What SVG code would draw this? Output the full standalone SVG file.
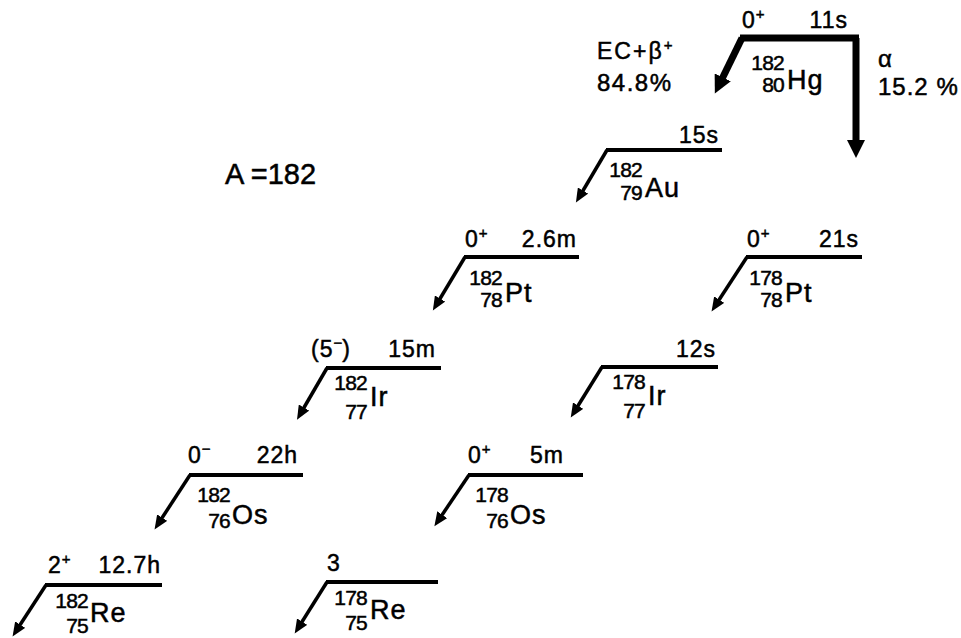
<svg xmlns="http://www.w3.org/2000/svg" width="961" height="638" viewBox="0 0 961 638">
<style>
text{font-family:"Liberation Sans","DejaVu Sans",sans-serif;fill:#000;stroke:#000;stroke-width:0.5}
.lb{font-size:23px;letter-spacing:1px}
.sp{font-size:15px;letter-spacing:0}
.num{font-size:21px;letter-spacing:-0.8px;text-anchor:end}
.el{font-size:27px;letter-spacing:1px}
.lvl{stroke:#000;stroke-width:4;fill:none}
.arr{stroke:#000;stroke-width:3.5;fill:none;marker-end:url(#ah)}
.big{stroke:#000;stroke-width:7;fill:none}
</style>
<defs>
<marker id="ah" markerUnits="userSpaceOnUse" markerWidth="16" markerHeight="12" refX="4" refY="6" orient="auto">
<path d="M0,0 L14,6 L0,12 z" fill="#000"/>
</marker>
<marker id="bh" markerUnits="userSpaceOnUse" markerWidth="20" markerHeight="18" refX="4" refY="9" orient="auto">
<path d="M0,0 L18,9 L0,18 z" fill="#000"/>
</marker>
</defs>
<rect width="961" height="638" fill="#fff"/>
<text x="225" y="184" style="font-size:29px">A =182</text>

<g id="Hg182">
<line x1="740" y1="38" x2="859" y2="38" stroke="#000" stroke-width="7"/>
<text class="lb" x="742" y="28">0<tspan class="sp" dy="-9">+</tspan></text>
<text class="lb" x="848" y="28" text-anchor="end">11s</text>
<text class="num" x="784" y="70">182</text>
<text class="num" x="784" y="92">80</text>
<text class="el" x="787" y="89">Hg</text>
</g>
<g id="Au182">
<line class="lvl" x1="606" y1="150" x2="722" y2="150"/>
<text class="lb" x="719" y="143" text-anchor="end">15s</text>
<text class="num" x="642" y="177">182</text>
<text class="num" x="642" y="200">79</text>
<text class="el" x="645" y="197">Au</text>
</g>
<g id="Pt182">
<line class="lvl" x1="464" y1="257" x2="579" y2="257"/>
<text class="lb" x="465" y="247">0<tspan class="sp" dy="-9">+</tspan></text>
<text class="lb" x="577" y="247" text-anchor="end">2.6m</text>
<text class="num" x="502" y="285">182</text>
<text class="num" x="502" y="307">78</text>
<text class="el" x="505" y="302">Pt</text>
</g>
<g id="Pt178">
<line class="lvl" x1="746" y1="257" x2="862" y2="257"/>
<text class="lb" x="747" y="247">0<tspan class="sp" dy="-9">+</tspan></text>
<text class="lb" x="859" y="247" text-anchor="end">21s</text>
<text class="num" x="782" y="285">178</text>
<text class="num" x="782" y="307">78</text>
<text class="el" x="785" y="302">Pt</text>
</g>
<g id="Ir182">
<line class="lvl" x1="326" y1="368" x2="441" y2="368"/>
<text class="lb" x="311" y="357">(5<tspan class="sp" dy="-9">−</tspan><tspan dy="9">)</tspan></text>
<text class="lb" x="436" y="357" text-anchor="end">15m</text>
<text class="num" x="367" y="390">182</text>
<text class="num" x="367" y="419">77</text>
<text class="el" x="370" y="406">Ir</text>
</g>
<g id="Ir178">
<line class="lvl" x1="601" y1="367" x2="718" y2="367"/>
<text class="lb" x="716" y="357" text-anchor="end">12s</text>
<text class="num" x="645" y="389">178</text>
<text class="num" x="645" y="418">77</text>
<text class="el" x="648" y="405">Ir</text>
</g>
<g id="Os182">
<line class="lvl" x1="189" y1="475" x2="303" y2="475"/>
<text class="lb" x="188" y="463">0<tspan class="sp" dy="-9">−</tspan></text>
<text class="lb" x="298" y="463" text-anchor="end">22h</text>
<text class="num" x="230" y="502">182</text>
<text class="num" x="230" y="528">76</text>
<text class="el" x="232" y="524">Os</text>
</g>
<g id="Os178">
<line class="lvl" x1="468" y1="475" x2="583" y2="475"/>
<text class="lb" x="468" y="463">0<tspan class="sp" dy="-9">+</tspan></text>
<text class="lb" x="564" y="463" text-anchor="end">5m</text>
<text class="num" x="508" y="502">178</text>
<text class="num" x="508" y="528">76</text>
<text class="el" x="510" y="524">Os</text>
</g>
<g id="Re182">
<line class="lvl" x1="45" y1="585" x2="162" y2="585"/>
<text class="lb" x="48" y="573">2<tspan class="sp" dy="-9">+</tspan></text>
<text class="lb" x="161" y="573" text-anchor="end">12.7h</text>
<text class="num" x="88" y="608">182</text>
<text class="num" x="88" y="633">75</text>
<text class="el" x="90" y="622">Re</text>
</g>
<g id="Re178">
<line class="lvl" x1="326" y1="582" x2="438" y2="582"/>
<text class="lb" x="327" y="571">3</text>
<text class="num" x="367" y="605">178</text>
<text class="num" x="367" y="630">75</text>
<text class="el" x="370" y="619">Re</text>
</g>

<g id="connectors">
<path class="big" d="M742,38 L721,81" marker-end="url(#bh)"/>
<path class="big" d="M856,38 L856,144" marker-end="url(#bh)"/>
<text class="lb" x="597" y="59" style="letter-spacing:2px">EC+β<tspan class="sp" dy="-9">+</tspan></text>
<text class="lb" x="597" y="91" style="font-size:24px;letter-spacing:1.5px">84.8%</text>
<text x="878" y="67" style="font-size:24px">α</text>
<text class="lb" x="878" y="95" style="font-size:24px">15.2 %</text>
<path class="arr" d="M607,150 L581,194"/>
<path class="arr" d="M465,257 L438,302"/>
<path class="arr" d="M747,257 L717,303"/>
<path class="arr" d="M327,368 L302,411"/>
<path class="arr" d="M602,367 L576,409"/>
<path class="arr" d="M190,475 L160,521"/>
<path class="arr" d="M469,475 L440,518"/>
<path class="arr" d="M46,585 L18,628"/>
<path class="arr" d="M327,582 L300,625"/>
</g>
</svg>
